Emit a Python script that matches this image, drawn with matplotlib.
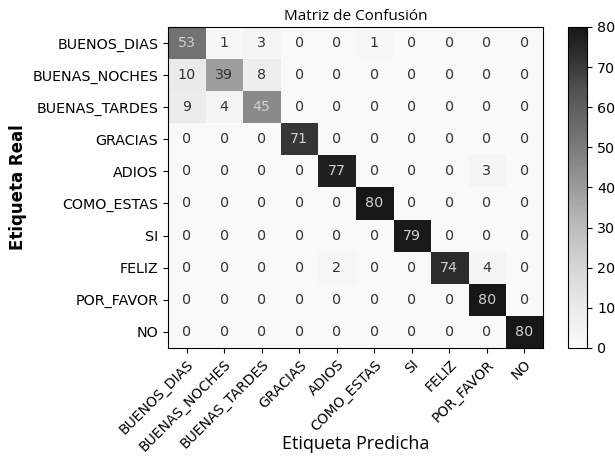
import numpy as np
import matplotlib.pyplot as plt
from matplotlib.colors import ListedColormap

clases = ["BUENOS_DIAS", "BUENAS_NOCHES", "BUENAS_TARDES", "GRACIAS", "ADIOS",
          "COMO_ESTAS", "SI", "FELIZ", "POR_FAVOR", "NO"]

fila_buenos_dias = [53, 1, 3, 0, 0, 1, 0, 0, 0, 0]
fila_buenas_noches = [10, 39, 8, 0, 0, 0, 0, 0, 0, 0]
fila_buenas_tardes = [9, 4, 45, 0, 0, 0, 0, 0, 0, 0]
fila_gracias = [0, 0, 0, 71, 0, 0, 0, 0, 0, 0]
fila_adios = [0, 0, 0, 0, 77, 0, 0, 0, 3, 0]
fila_como_estas = [0, 0, 0, 0, 0, 80, 0, 0, 0, 0]
fila_si = [0, 0, 0, 0, 0, 0, 79, 0, 0, 0]
fila_feliz = [0, 0, 0, 0, 2, 0, 0, 74, 4, 0]
fila_por_favor = [0, 0, 0, 0, 0, 0, 0, 0, 80, 0]
fila_no = [0, 0, 0, 0, 0, 0, 0, 0, 0, 80]

cm = np.array([fila_buenos_dias, fila_buenas_noches, fila_buenas_tardes,
               fila_gracias, fila_adios, fila_como_estas, fila_si,
               fila_feliz, fila_por_favor, fila_no])

# Greys un poco recortado (el original no llega a blanco/negro puro)
cmap = ListedColormap(plt.cm.Greys(np.linspace(0.05, 0.92, 256)))

fig = plt.figure(figsize=(6.15, 4.65), dpi=100)
ax = fig.add_axes([0.273, 0.252, 0.610, 0.690])
cax = fig.add_axes([0.924, 0.252, 0.031, 0.690])

im = ax.imshow(cm, cmap=cmap, vmin=0, vmax=80, aspect="auto", interpolation="nearest")
cb = fig.colorbar(im, cax=cax)
cb.set_ticks(range(0, 81, 10))
cb.ax.tick_params(labelsize=10.3)

umbral = (cm.max() + cm.min()) / 2
for i in range(cm.shape[0]):
    for j in range(cm.shape[1]):
        color = "#d0d0d0" if cm[i, j] > umbral else "#333333"
        ax.text(j, i, str(cm[i, j]), ha="center", va="center", color=color, fontsize=10.3)

ax.set_xticks(range(len(clases)))
ax.set_yticks(range(len(clases)))
ax.set_xticklabels(clases, rotation=45, ha="right", rotation_mode="anchor", fontsize=10)
ax.set_yticklabels(clases, fontsize=10.3)

ax.set_title("Matriz de Confusión", fontsize=11, family="Open Sans", pad=5)
ax.set_xlabel("Etiqueta Predicha", fontsize=13, family="Open Sans", va="center")
ax.xaxis.set_label_coords(0.5, -0.30)
ax.set_ylabel("Etiqueta Real", fontsize=12, fontweight="semibold", va="center")
ax.yaxis.set_label_coords(-0.40, 0.5)

fig.savefig("out.png", dpi=100)
